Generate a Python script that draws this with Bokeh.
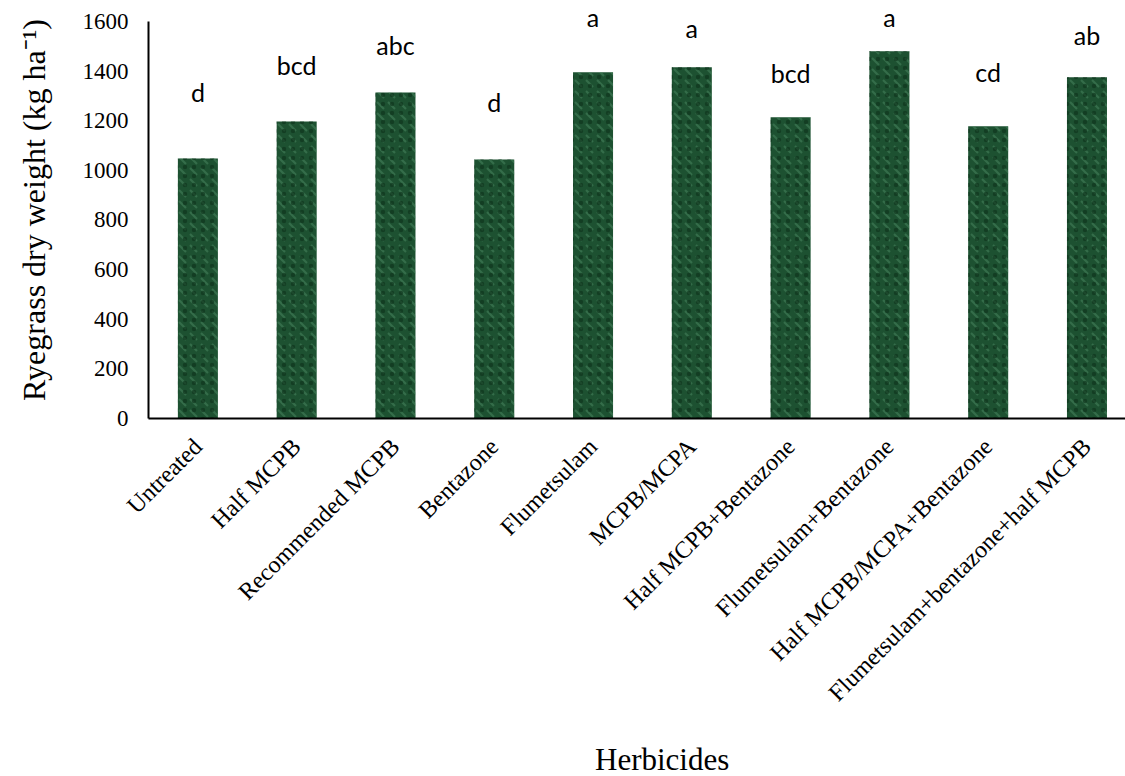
import math

from bokeh.core.properties import value
from bokeh.embed import file_html
from bokeh.layouts import column
from bokeh.models import ColumnDataSource, Div, FixedTicker, Range1d
from bokeh.plotting import figure
from bokeh.resources import INLINE

# Ryegrass dry weight under each herbicide treatment
treatments = [
    "Untreated",
    "Half MCPB",
    "Recommended MCPB",
    "Bentazone",
    "Flumetsulam",
    "MCPB/MCPA",
    "Half MCPB+Bentazone",
    "Flumetsulam+Bentazone",
    "Half MCPB/MCPA+Bentazone",
    "Flumetsulam+bentazone+half MCPB",
]
dry_weight = [1047, 1197, 1313, 1043, 1395, 1415, 1214, 1480, 1177, 1375]
letters = ["d", "bcd", "abc", "d", "a", "a", "bcd", "a", "cd", "ab"]
# baseline height (kg ha-1) at which each significance letter sits
letter_y = [1314, 1423, 1504, 1274, 1617, 1572, 1391, 1617, 1395, 1544]
y_ticks = [0, 200, 400, 600, 800, 1000, 1200, 1400, 1600]

positions = list(range(len(treatments)))
src = ColumnDataSource(dict(x=positions, w=dry_weight, letter=letters, ly=letter_y))

SERIF = "Liberation Serif"

p = figure(
    width=1125,
    height=742,
    output_backend="svg",
    toolbar_location=None,
    x_range=Range1d(-0.5, 9.39),
    y_range=Range1d(0, 1680),
    min_border_left=148,
    min_border_right=0,
    min_border_top=1,
    min_border_bottom=324,
)
p.outline_line_color = None
p.xgrid.visible = False
p.ygrid.visible = False
p.background_fill_color = "white"

# textured green bars: dark base plus two hatch layers
p.vbar(x="x", top="w", width=0.405, source=src, fill_color="#1d5131", line_color=None)
p.vbar(x="x", top="w", width=0.405, source=src, fill_alpha=0, line_color=None,
       hatch_pattern="left_diagonal_dash", hatch_color="#4f9068", hatch_alpha=0.45,
       hatch_scale=11, hatch_weight=2)
p.vbar(x="x", top="w", width=0.405, source=src, fill_alpha=0, line_color=None,
       hatch_pattern="dot", hatch_color="#0c3019", hatch_alpha=0.6,
       hatch_scale=9, hatch_weight=3)

# significance letters
p.text(x="x", y="ly", text="letter", source=src, text_align="center",
       text_baseline="alphabetic", text_font=value("Lato"), text_font_size="25px",
       text_color="black")

# y axis, drawn only from 0 to 1600
ya = p.yaxis[0]
ya.bounds = (0, 1600)
ya.ticker = FixedTicker(ticks=y_ticks)
ya.axis_line_width = 2
ya.axis_line_color = "black"
ya.major_tick_in = 0
ya.major_tick_out = 0
ya.minor_tick_in = 0
ya.minor_tick_out = 0
ya.major_label_standoff = 20
ya.major_label_text_font = SERIF
ya.major_label_text_font_size = "23px"
ya.major_label_text_color = "black"
ya.axis_label = "Ryegrass dry weight (kg ha\u207b\u00b9)"
ya.axis_label_text_font = SERIF
ya.axis_label_text_font_size = "32px"
ya.axis_label_text_font_style = "normal"
ya.axis_label_text_color = "black"
ya.axis_label_standoff = 28

# x axis with slanted treatment names
xa = p.xaxis[0]
xa.ticker = FixedTicker(ticks=positions)
xa.major_label_overrides = {i: name for i, name in zip(positions, treatments)}
xa.major_label_orientation = math.pi / 4
xa.axis_line_width = 2
xa.axis_line_color = "black"
xa.major_tick_in = 0
xa.major_tick_out = 0
xa.minor_tick_in = 0
xa.minor_tick_out = 0
xa.major_label_standoff = 24
xa.major_label_text_font = SERIF
xa.major_label_text_font_size = "24px"
xa.major_label_text_color = "black"

# x axis title in a strip under the figure
x_title = Div(
    text="Herbicides",
    width=1125,
    height=34,
    margin=(0, 0, 0, 0),
    styles={
        "font-family": "'Liberation Serif', serif",
        "font-size": "31px",
        "line-height": "36px",
        "padding-left": "595px",
        "color": "black",
        "white-space": "nowrap",
    },
)

layout = column(p, x_title, spacing=0)

open("out.html", "w").write(file_html(layout, INLINE))
